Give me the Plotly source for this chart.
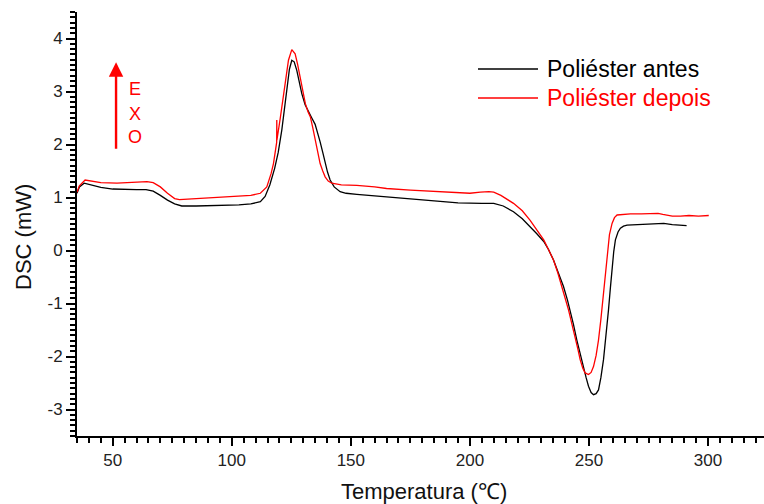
import plotly.graph_objects as go

# Poliéster antes (black)
antes_x = [35, 36, 38, 40, 45, 50, 55, 60, 64, 67, 70, 73, 76, 79, 85, 95, 103, 108, 112, 114, 116, 118,
           119.5, 121, 122, 123.1, 124.2, 125.2, 126.2, 127.3, 128.4, 129.4, 130.8, 132.2, 133.6, 135,
           136, 137.1, 138.2, 139.2, 140.2, 141.3, 143, 145.5, 148, 152.5, 160, 165, 175, 185, 195,
           205, 210, 214, 218.3, 222, 225.3, 228, 231, 233, 235.1, 237.2, 239.3, 241, 242.1, 243.5,
           244.9, 246.3, 247.7, 248.8, 249.8, 250.9, 251.9, 253, 254, 255, 256.1, 257.2, 258.2, 259,
           259.7, 260.4, 261.1, 262.2, 263.2, 264.5, 266, 270, 274.4, 278, 281.4, 285, 288, 291]
antes_y = [1.08, 1.20, 1.27, 1.25, 1.19, 1.16, 1.15, 1.15, 1.15, 1.12, 1.04, 0.95, 0.88, 0.84, 0.84, 0.85,
           0.86, 0.88, 0.92, 1.02, 1.24, 1.55, 1.85, 2.27, 2.65, 3.08, 3.42, 3.59, 3.56, 3.40, 3.17,
           2.96, 2.75, 2.61, 2.50, 2.38, 2.23, 2.05, 1.85, 1.65, 1.48, 1.33, 1.20, 1.11, 1.08, 1.06,
           1.03, 1.01, 0.97, 0.93, 0.90, 0.89, 0.89, 0.84, 0.73, 0.60, 0.45, 0.32, 0.17, 0.02, -0.18,
           -0.42, -0.68, -0.94, -1.12, -1.40, -1.69, -1.96, -2.19, -2.40, -2.56, -2.68, -2.72, -2.70,
           -2.63, -2.40, -2.06, -1.60, -1.12, -0.70, -0.30, -0.02, 0.20, 0.35, 0.42, 0.46, 0.48, 0.49,
           0.49, 0.50, 0.51, 0.49, 0.48, 0.47]

# Poliéster depois (red)
depois_x = [35, 36, 38.4, 41, 45, 51.8, 58, 64.4, 67, 70, 73, 76, 78, 86.7, 95, 103.5, 108, 112, 114.7,
            116.5, 117.5, 118.85, 118.9, 118.95, 120.3, 121.7, 122.8, 123.8, 125.2, 126.6, 127.6,
            128.7, 129.8, 130.9, 132, 133, 134, 135, 136, 137.1, 138.2, 139.2, 140.5, 142, 146, 152.5,
            160, 165, 175, 185, 195, 200, 204.4, 208, 210, 213, 218.3, 222, 225.3, 228, 231, 233,
            235.1, 236.9, 238.7, 240, 241.4, 242.8, 244.2, 245.3, 246.3, 247.4, 248.4, 249.8, 250.9,
            251.9, 253, 254, 255, 256.1, 256.9, 257.6, 258.6, 259.7, 260.7, 261.8, 264, 267.4, 272,
            277.2, 279, 281, 282.8, 285, 288.4, 292, 296, 300.3]
depois_y = [1.10, 1.22, 1.33, 1.31, 1.28, 1.27, 1.28, 1.30, 1.28, 1.20, 1.08, 0.98, 0.96, 0.98, 1.00,
            1.03, 1.04, 1.08, 1.20, 1.45, 1.64, 2.04, 2.46, 2.08, 2.48, 2.90, 3.30, 3.59, 3.79, 3.71,
            3.52, 3.27, 3.02, 2.77, 2.62, 2.52, 2.32, 2.08, 1.85, 1.64, 1.50, 1.39, 1.31, 1.27, 1.24,
            1.23, 1.20, 1.17, 1.14, 1.12, 1.09, 1.08, 1.10, 1.11, 1.10, 1.04, 0.89, 0.75, 0.57, 0.40,
            0.20, 0.02, -0.18, -0.42, -0.68, -0.90, -1.12, -1.37, -1.62, -1.85, -2.06, -2.22, -2.31,
            -2.34, -2.30, -2.19, -1.98, -1.69, -1.30, -0.81, -0.40, -0.05, 0.30, 0.51, 0.62, 0.67,
            0.68, 0.69, 0.69, 0.69, 0.70, 0.68, 0.66, 0.65, 0.65, 0.66, 0.65, 0.66]

series_names = ["Poliéster antes", "Poliéster depois"]
series_colors = ["black", "red"]
x_ticks = [50, 100, 150, 200, 250, 300]
x_ticklabels = ["50", "100", "150", "200", "250", "300"]
y_ticks = [-3, -2, -1, 0, 1, 2, 3, 4]
y_ticklabels = ["-3", "-2", "-1", "0", "1", "2", "3", "4"]
x_title = "Temperatura (℃)"
y_title = "DSC (mW)"

FONT = "Arial, Liberation Sans, sans-serif"

fig = go.Figure()
fig.add_trace(go.Scatter(x=antes_x, y=antes_y, mode="lines", name=series_names[0],
                         line=dict(color=series_colors[0], width=1.3), showlegend=False))
fig.add_trace(go.Scatter(x=depois_x, y=depois_y, mode="lines", name=series_names[1],
                         line=dict(color=series_colors[1], width=1.3), showlegend=False))

axis_common = dict(showline=True, linecolor="black", linewidth=2, ticks="outside",
                   tickcolor="black", tickwidth=1.6, showgrid=False, zeroline=False,
                   tickfont=dict(family=FONT, size=17, color="#222"))

fig.update_xaxes(range=[35, 323.5], tickvals=x_ticks, ticktext=x_ticklabels, ticklen=8,
                 minor=dict(dtick=5, tick0=0, ticks="outside", ticklen=5, tickwidth=1.6, tickcolor="black"),
                 **axis_common)
fig.update_yaxes(range=[-3.5, 4.5], tickvals=y_ticks, ticktext=y_ticklabels, ticklen=9,
                 minor=dict(dtick=0.1, tick0=0, ticks="outside", ticklen=5, tickwidth=1.6, tickcolor="black"),
                 **axis_common)


def px_to_paper(px, py):
    return (px - 77) / 687.0, (436 - py) / 424.0


# axis titles
xp, yp = px_to_paper(424, 491)
fig.add_annotation(xref="paper", yref="paper", x=xp, y=yp, text=x_title, showarrow=False,
                   xanchor="center", yanchor="middle", font=dict(family=FONT, size=22, color="#111"))
xp, yp = px_to_paper(23, 237)
fig.add_annotation(xref="paper", yref="paper", x=xp, y=yp, text=y_title, showarrow=False, textangle=-90,
                   xanchor="center", yanchor="middle", font=dict(family=FONT, size=22, color="#111"))

# manual legend
for i, (name, col) in enumerate(zip(series_names, series_colors)):
    py = 69 + 29 * i
    x0, y0 = px_to_paper(478, py)
    x1, _ = px_to_paper(538, py)
    xt, _ = px_to_paper(545, py)
    fig.add_shape(type="line", xref="paper", yref="paper", x0=x0, x1=x1, y0=y0, y1=y0,
                  line=dict(color=col, width=1.3))
    fig.add_annotation(xref="paper", yref="paper", x=xt, y=y0, text=name, showarrow=False,
                       xanchor="left", yanchor="middle",
                       font=dict(family=FONT, size=23, color=col))

# EXO arrow
fig.add_annotation(x=51.4, y=3.55, ax=51.4, ay=1.89, xref="x", yref="y", axref="x", ayref="y",
                   text="", showarrow=True, arrowhead=2, arrowsize=1.2, arrowwidth=2.4, arrowcolor="red")
for letter, py in zip(["E", "X", "O"], [89, 114, 137]):
    xp, yp = px_to_paper(135, py)
    fig.add_annotation(xref="paper", yref="paper", x=xp, y=yp, text=letter, showarrow=False,
                       xanchor="center", yanchor="middle", font=dict(family=FONT, size=18, color="red"))

fig.update_layout(width=764, height=504, margin=dict(l=77, r=0, t=12, b=68),
                  plot_bgcolor="white", paper_bgcolor="white", showlegend=False)

fig.write_html("out.html")
